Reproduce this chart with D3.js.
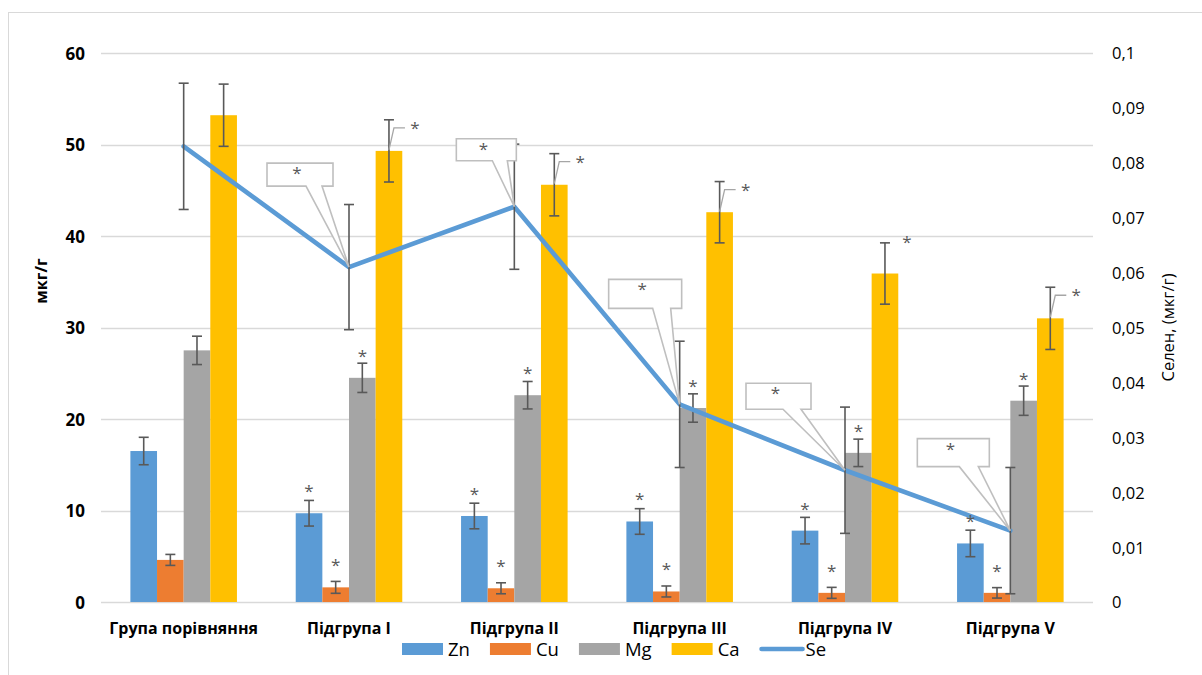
<!DOCTYPE html>
<html>
<head>
<meta charset="utf-8">
<script src="https://cdnjs.cloudflare.com/ajax/libs/d3/7.8.5/d3.min.js"></script>
<style>
  html, body { margin: 0; padding: 0; background: #fff; }
  svg { display: block; font-family: "Open Sans", "Noto Sans", sans-serif; }
</style>
</head>
<body>
<svg id="chart" width="1202" height="675"></svg>
<script>
// Groups on the x axis
const categories = ["Група порівняння", "Підгрупа I", "Підгрупа II", "Підгрупа III", "Підгрупа IV", "Підгрупа V"];

// Trace elements, мкг/г (left axis) with their error margins
const zn    = [16.5, 9.7, 9.4, 8.8, 7.8, 6.4];
const znErr = [1.5, 1.4, 1.4, 1.4, 1.45, 1.45];
const cu    = [4.6, 1.6, 1.5, 1.15, 1.0, 1.0];
const cuErr = [0.6, 0.65, 0.6, 0.6, 0.6, 0.57];
const mg    = [27.5, 24.5, 22.6, 21.2, 16.3, 22.0];
const mgErr = [1.55, 1.6, 1.5, 1.55, 1.5, 1.6];
const ca    = [53.2, 49.3, 45.6, 42.6, 35.9, 31.0];
const caErr = [3.4, 3.4, 3.4, 3.35, 3.35, 3.4];

// Selenium, мкг/г (right axis)
const se    = [0.083, 0.061, 0.072, 0.036, 0.024, 0.013];
const seErr = [0.0115, 0.0114, 0.0114, 0.0115, 0.0115, 0.0115];

// Significance marks: a group differs from the comparison group
const significant = [false, true, true, true, true, true];

// Axis ticks
const leftTicks  = [0, 10, 20, 30, 40, 50, 60];
const rightTicks = [0, 0.01, 0.02, 0.03, 0.04, 0.05, 0.06, 0.07, 0.08, 0.09, 0.1];
const rightTickLabels = ["0", "0,01", "0,02", "0,03", "0,04", "0,05", "0,06", "0,07", "0,08", "0,09", "0,1"];

const seriesNames  = ["Zn", "Cu", "Mg", "Ca"];
const seriesValues = [zn, cu, mg, ca];
const seriesErrors = [znErr, cuErr, mgErr, caErr];
const colors = { Zn: "#5b9bd5", Cu: "#ed7d31", Mg: "#a5a5a5", Ca: "#ffc000", Se: "#5b9bd5" };

// Label layout: callout boxes for Se points [dx, dy, w, h, wedgeLeft, wedgeRight] relative to the point
const seCallouts = [
  null,
  [-82, -104, 66, 23, -43, -27],
  [-58, -68, 60, 22, -22, -7],
  [-71, -125, 73, 29, -27, -9],
  [-99, -87, 65, 26, -62, -44],
  [-93, -92, 72, 28, -51, -32]
];
// Ca stars drawn with a short leader line
const caLeader = [false, true, true, true, false, true];

const svg = d3.select("#chart");
const plot = { left: 101, right: 1093, top: 53, bottom: 602 };

// Chart frame
svg.append("rect")
  .attr("x", 8.5).attr("y", 12.5)
  .attr("width", 1200).attr("height", 700)
  .attr("fill", "#fff").attr("stroke", "#d9d9d9").attr("stroke-width", 1);

const x = d3.scaleBand().domain(categories).range([plot.left, plot.right]).padding(0);
const step = x.bandwidth();
const gap = step * 0.3555;
const xs = d3.scaleBand().domain(seriesNames).range([gap / 2, step - gap / 2]).padding(0);
const y = d3.scaleLinear().domain([0, 60]).range([plot.bottom, plot.top]);
const y2 = d3.scaleLinear().domain([0, 0.1]).range([plot.bottom, plot.top]);

// Gridlines
svg.append("g").selectAll("line").data(leftTicks).join("line")
  .attr("x1", plot.left).attr("x2", plot.right)
  .attr("y1", d => Math.round(y(d)) + 0.5).attr("y2", d => Math.round(y(d)) + 0.5)
  .attr("stroke", "#d9d9d9").attr("stroke-width", 1.3);

// Left axis
const leftAxis = svg.append("g")
  .attr("transform", `translate(${plot.left - 16},0)`)
  .call(d3.axisLeft(y).tickValues(leftTicks).tickSize(0).tickPadding(0));
leftAxis.select(".domain").remove();
leftAxis.selectAll("text")
  .attr("font-family", "Open Sans").attr("font-size", 17).attr("font-weight", 700)
  .attr("fill", "#000").attr("dy", "0.36em");

// Right axis
const rightAxis = svg.append("g")
  .attr("transform", `translate(${plot.right + 19},0)`)
  .call(d3.axisRight(y2).tickValues(rightTicks).tickFormat((d, i) => rightTickLabels[i]).tickSize(0).tickPadding(0));
rightAxis.select(".domain").remove();
rightAxis.selectAll("text")
  .attr("font-family", "Open Sans").attr("font-size", 16.5).attr("font-weight", 400)
  .attr("fill", "#000").attr("dy", "0.36em");

// Axis titles
svg.append("text")
  .attr("transform", "translate(47,281) rotate(-90)")
  .attr("text-anchor", "middle")
  .attr("font-size", 16).attr("font-weight", 700).attr("fill", "#000")
  .text("мкг/г");
svg.append("text")
  .attr("transform", `translate(1174,${(plot.top + plot.bottom) / 2}) rotate(-90)`)
  .attr("text-anchor", "middle")
  .attr("font-size", 16.5).attr("font-weight", 400).attr("fill", "#000")
  .text("Селен, (мкг/г)");

// Category labels
svg.append("g").selectAll("text").data(categories).join("text")
  .attr("x", d => x(d) + step / 2).attr("y", 634)
  .attr("text-anchor", "middle")
  .attr("font-size", 16).attr("font-weight", 700).attr("fill", "#000")
  .text(d => d);

// Bars
const rows = [];
categories.forEach((c, i) => {
  seriesNames.forEach((s, k) => {
    rows.push({ cat: c, i, series: s, value: seriesValues[k][i], err: seriesErrors[k][i] });
  });
});
svg.append("g").selectAll("rect").data(rows).join("rect")
  .attr("x", d => x(d.cat) + xs(d.series))
  .attr("width", xs.bandwidth())
  .attr("y", d => y(d.value))
  .attr("height", d => y(0) - y(d.value))
  .attr("fill", d => colors[d.series]);

// Error bars for bars
const errColor = "#595959";
function errorBar(g, cx, yTop, yBot) {
  g.append("line").attr("x1", cx).attr("x2", cx).attr("y1", yTop).attr("y2", yBot)
    .attr("stroke", errColor).attr("stroke-width", 1.6);
  [yTop, yBot].forEach(yy => g.append("line")
    .attr("x1", cx - 5).attr("x2", cx + 5).attr("y1", yy).attr("y2", yy)
    .attr("stroke", errColor).attr("stroke-width", 1.6));
}
const errG = svg.append("g");
rows.forEach(d => {
  const cx = x(d.cat) + xs(d.series) + xs.bandwidth() / 2;
  errorBar(errG, cx, y(d.value + d.err), y(d.value - d.err));
});

// Se line
const seX = i => x(categories[i]) + step / 2;
svg.append("path")
  .datum(se)
  .attr("d", d3.line().x((d, i) => seX(i)).y(d => y2(d)))
  .attr("fill", "none").attr("stroke", colors.Se).attr("stroke-width", 4.6)
  .attr("stroke-linejoin", "round").attr("stroke-linecap", "round");

// Se error bars
const seErrG = svg.append("g");
se.forEach((v, i) => errorBar(seErrG, seX(i), y2(v + seErr[i]), y2(v - seErr[i])));

// Significance stars above Zn, Cu, Mg
const starColor = "#595959";
const labelG = svg.append("g");
rows.filter(d => significant[d.i] && d.series !== "Ca").forEach(d => {
  const cx = x(d.cat) + xs(d.series) + xs.bandwidth() / 2;
  labelG.append("text")
    .attr("x", cx).attr("y", y(d.value) - 25 + 9)
    .attr("text-anchor", "middle")
    .attr("font-size", 17).attr("fill", starColor)
    .text("*");
});

// Stars for Ca with leader lines
ca.forEach((v, i) => {
  if (!significant[i]) return;
  const cx = x(categories[i]) + xs("Ca") + xs.bandwidth() / 2;
  const top = y(v + caErr[i]);
  if (caLeader[i]) {
    labelG.append("path")
      .attr("d", `M${cx},${top + 30} L${cx + 5},${top + 8} L${cx + 16},${top + 8}`)
      .attr("fill", "none").attr("stroke", "#a6a6a6").attr("stroke-width", 1.3);
    labelG.append("text")
      .attr("x", cx + 26).attr("y", top + 14)
      .attr("text-anchor", "middle")
      .attr("font-size", 17).attr("fill", starColor).text("*");
  } else {
    labelG.append("text")
      .attr("x", cx + 22).attr("y", top + 5)
      .attr("text-anchor", "middle")
      .attr("font-size", 17).attr("fill", starColor).text("*");
  }
});

// Se callouts
se.forEach((v, i) => {
  const c = seCallouts[i];
  if (!c || !significant[i]) return;
  const px = seX(i), py = y2(v);
  const [dx, dy, w, h, wl, wr] = c;
  const L = px + dx, T = py + dy, R = L + w, B = T + h;
  const p = `M${L},${T} L${R},${T} L${R},${B} L${px + wr},${B} L${px},${py} L${px + wl},${B} L${L},${B} Z`;
  labelG.append("path").attr("d", p)
    .attr("fill", "#fff").attr("stroke", "#bfbfbf").attr("stroke-width", 1.6)
    .attr("stroke-linejoin", "miter");
  labelG.append("text")
    .attr("x", L + w * 0.5 - 3).attr("y", T + 16)
    .attr("text-anchor", "middle")
    .attr("font-size", 17).attr("fill", starColor).text("*");
});

// Legend
const legend = svg.append("g").attr("transform", "translate(402,649)");
let lx = 0;
seriesNames.concat(["Se"]).forEach(name => {
  if (name === "Se") {
    legend.append("line").attr("x1", lx + 2).attr("x2", lx + 43).attr("y1", 0).attr("y2", 0)
      .attr("stroke", colors.Se).attr("stroke-width", 4.6).attr("stroke-linecap", "round");
  } else {
    legend.append("rect").attr("x", lx).attr("y", -6).attr("width", 41).attr("height", 12)
      .attr("fill", colors[name]);
  }
  const t = legend.append("text")
    .attr("x", lx + 46).attr("y", 0).attr("dy", "0.36em")
    .attr("font-size", 18.5).attr("fill", "#000").text(name);
  lx += 46 + t.node().getComputedTextLength() + 20;
});
</script>
</body>
</html>
